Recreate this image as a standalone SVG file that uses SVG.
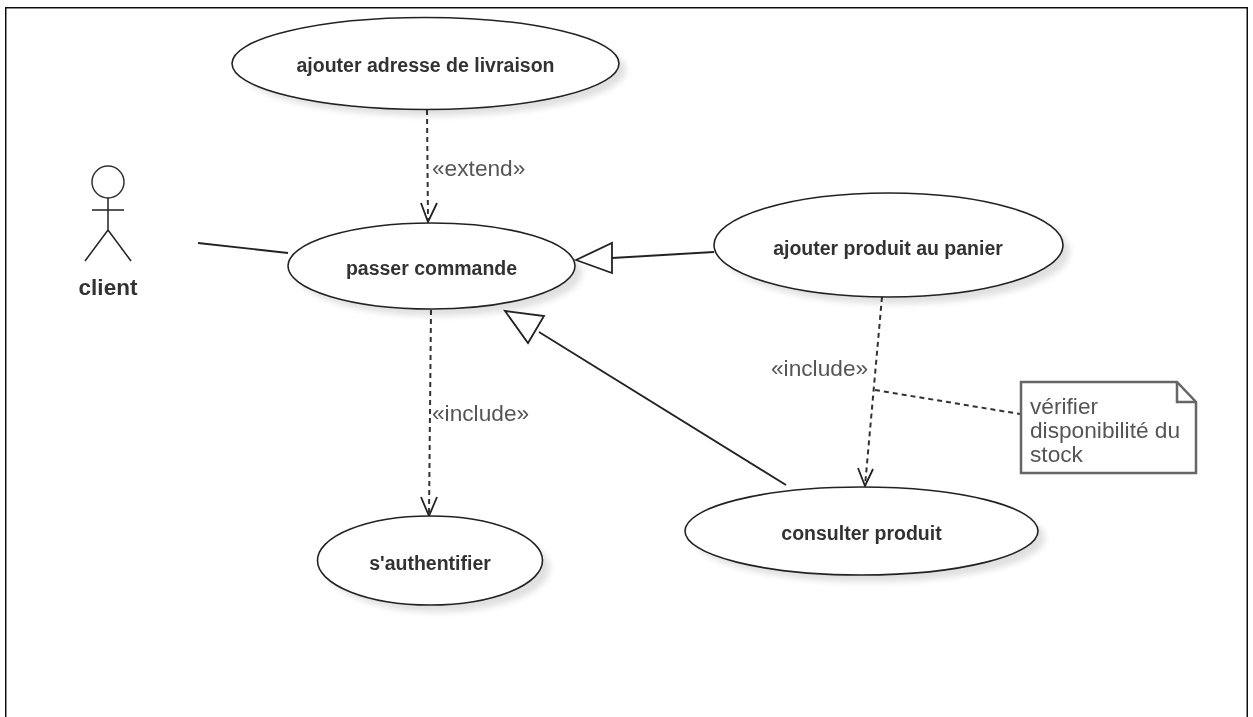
<svg xmlns="http://www.w3.org/2000/svg" width="1253" height="717" viewBox="0 0 1253 717">
<style>
text{font-family:"Liberation Sans",Arial,sans-serif}
.uc{fill:#fff;stroke:#222;stroke-width:1.6}
.sh{fill:#000;opacity:.12;filter:url(#b)}
.t{font-size:19.5px;font-weight:bold;fill:#333;text-anchor:middle}
.l{font-size:22.700px;fill:#555}
.c{fill:none;stroke:#222;stroke-width:1.8}
.d{fill:none;stroke:#333;stroke-width:2;stroke-dasharray:5 4}
.a{fill:#fff;stroke:#222;stroke-width:1.8}
</style>
<defs>
<filter id="b" x="-20%" y="-20%" width="140%" height="140%"><feGaussianBlur stdDeviation="3"/></filter>
<filter id="s" x="0" y="0" width="100%" height="100%"><feGaussianBlur stdDeviation="0.45"/></filter>
</defs>
<rect width="1253" height="717" fill="#fff"/>
<g filter="url(#s)">
<path d="M5.500 717V7.500H1247.500V717" fill="none" stroke="#111" stroke-width="2"/>
<g id="connectors">
<path class="c" d="M198 243L288 253"/>
<path class="d" d="M427 110L428 221"/>
<path class="c" d="M421 203L428 222L437 203"/>
<path class="d" d="M431 310L429 515"/>
<path class="c" d="M421 497L429 516L437 497"/>
<path class="c" d="M612 258L714 252"/>
<path class="a" d="M576 260L612 243V273Z"/>
<path class="c" d="M539 332L786 485"/>
<path class="a" d="M505 311L544 316L528 343Z"/>
<path class="d" d="M882 297L865 486"/>
<path class="c" d="M858 468L865 486L873 469"/>
<path class="d" d="M875 390L1020 414"/>
</g>
<g id="actor-client">
<circle cx="108" cy="182" r="16" fill="#fff" stroke="#333" stroke-width="1.5"/>
<path d="M108 198V230M92 210H124M108 230L85 261M108 230L131 261" fill="none" stroke="#222" stroke-width="1.500"/>
<text x="108" y="295" font-size="22.500" font-weight="bold" fill="#333" text-anchor="middle">client</text>
</g>
<g id="uc-adresse">
<ellipse class="sh" cx="433" cy="70" rx="193" ry="46"/>
<ellipse class="uc" cx="425.500" cy="63.500" rx="193.500" ry="46"/>
<text class="t" x="425.500" y="72">ajouter adresse de livraison</text>
</g>
<g id="uc-passer">
<ellipse class="sh" cx="439" cy="273" rx="143" ry="43"/>
<ellipse class="uc" cx="431.500" cy="266" rx="143.500" ry="43"/>
<text class="t" x="431.500" y="275">passer commande</text>
</g>
<g id="uc-panier">
<ellipse class="sh" cx="896" cy="252" rx="174" ry="52"/>
<ellipse class="uc" cx="888.500" cy="245" rx="174.500" ry="52"/>
<text class="t" x="888" y="255">ajouter produit au panier</text>
</g>
<g id="uc-consulter">
<ellipse class="sh" cx="869" cy="538" rx="176" ry="44"/>
<ellipse class="uc" cx="861.500" cy="531" rx="176.500" ry="44"/>
<text class="t" x="861.500" y="540">consulter produit</text>
</g>
<g id="uc-auth">
<ellipse class="sh" cx="438" cy="568" rx="112" ry="44"/>
<ellipse class="uc" cx="430" cy="560.500" rx="112.500" ry="44.500"/>
<text class="t" x="430" y="570">s'authentifier</text>
</g>
<g id="note">
<path d="M1021 382H1177L1196 402V473H1021Z" fill="#fff" stroke="#666" stroke-width="2.500"/>
<path d="M1177 382V402H1196" fill="none" stroke="#666" stroke-width="2.500"/>
<text class="l" x="1030" y="414">vérifier</text>
<text class="l" x="1030" y="438">disponibilité du</text>
<text class="l" x="1030" y="462">stock</text>
</g>
<g id="labels">
<text class="l" x="432" y="176">«extend»</text>
<text class="l" x="432" y="421">«include»</text>
<text class="l" x="771" y="376">«include»</text>
</g>
</g>
</svg>
